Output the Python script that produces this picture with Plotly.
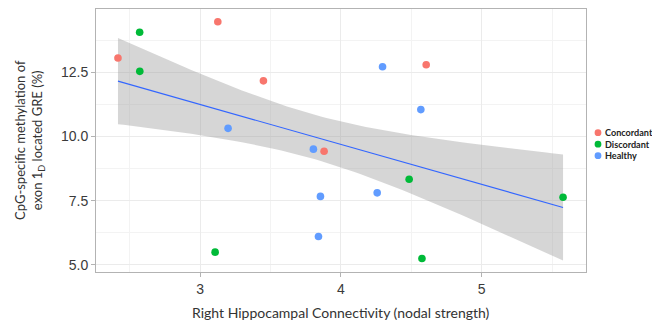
import numpy as np
import plotly.graph_objects as go

# Nodal strength (x) and exon 1D GRE methylation (y) per group
groups = ["Concordant", "Discordant", "Healthy"]
colors = ["#F8766D", "#00BA38", "#619CFF"]

concordant_x = [2.417, 3.126, 3.450, 3.881, 4.606]
concordant_y = [13.06, 14.47, 12.17, 9.43, 12.80]
discordant_x = [2.571, 2.572, 3.107, 4.485, 4.576, 5.578]
discordant_y = [14.06, 12.54, 5.50, 8.34, 5.25, 7.64]
healthy_x = [3.199, 3.805, 3.855, 3.841, 4.296, 4.568, 4.258]
healthy_y = [10.32, 9.51, 7.67, 6.11, 12.72, 11.05, 7.81]

x_ticks = [3, 4, 5]
y_ticks = [5.0, 7.5, 10.0, 12.5]

xs = [concordant_x, discordant_x, healthy_x]
ys = [concordant_y, discordant_y, healthy_y]

# Linear fit with an 80% confidence band over all subjects
x_all = np.concatenate([np.array(v) for v in xs])
y_all = np.concatenate([np.array(v) for v in ys])
n = len(x_all)
slope, intercept = np.polyfit(x_all, y_all, 1)
grid = np.linspace(x_all.min(), x_all.max(), 80)
fit = intercept + slope * grid
resid = y_all - (intercept + slope * x_all)
s = np.sqrt(np.sum(resid ** 2) / (n - 2))
x_mean = x_all.mean()
sxx = np.sum((x_all - x_mean) ** 2)
t_crit = 1.3368  # t(0.90, df = 16)
se = s * np.sqrt(1.0 / n + (grid - x_mean) ** 2 / sxx)
upper = fit + t_crit * se
lower = fit - t_crit * se

fig = go.Figure()
fig.add_trace(go.Scatter(
    x=np.concatenate([grid, grid[::-1]]),
    y=np.concatenate([upper, lower[::-1]]),
    fill="toself", fillcolor="rgba(153,153,153,0.4)",
    line=dict(width=0), mode="lines", hoverinfo="skip", showlegend=False,
))
fig.add_trace(go.Scatter(
    x=grid, y=fit, mode="lines",
    line=dict(color="#3366FF", width=1.1), showlegend=False,
))
for name, col, gx, gy in zip(groups, colors, xs, ys):
    fig.add_trace(go.Scatter(
        x=gx, y=gy, mode="markers", name=name,
        marker=dict(color=col, size=7.6, line=dict(width=0)),
        showlegend=False,
    ))

# Plot area geometry (pixels) used for the hand-placed legend and titles
W, H = 652, 321
ml, mr, mt, mb = 96, 66, 9, 49
pw, ph = W - ml - mr, H - mt - mb

shapes = []
annotations = []
for i, (name, col) in enumerate(zip(groups, colors)):
    py = 132.7 + i * 11.5
    yp = (H - mb - py) / ph
    shapes.append(dict(
        type="circle", xref="paper", yref="paper",
        xsizemode="pixel", ysizemode="pixel",
        xanchor=(598 - ml) / pw, yanchor=yp,
        x0=-3.4, x1=3.4, y0=-3.4, y1=3.4,
        fillcolor=col, line=dict(width=0),
    ))
    annotations.append(dict(
        text="<b>" + name + "</b>", xref="paper", yref="paper",
        x=(602.5 - ml) / pw, y=yp, xanchor="left", yanchor="middle",
        showarrow=False, font=dict(family="Lato", size=9.1, color="#222222"),
    ))

annotations.append(dict(
    text="Right Hippocampal Connectivity (nodal strength)",
    xref="paper", yref="paper", x=0.5, y=0, yanchor="middle", yshift=-40,
    showarrow=False, font=dict(family="Lato", size=14, color="#333333"),
))
annotations.append(dict(
    text="CpG-specific methylation of<br>exon 1<sub>D</sub> located GRE (%)",
    xref="paper", yref="paper", x=0, y=0.5, xanchor="center", yanchor="middle",
    xshift=-(ml - 29.5), textangle=-90,
    showarrow=False, font=dict(family="Lato", size=13, color="#333333"),
))

axis_common = dict(
    showline=True, mirror=True, linecolor="#b3b3b3", linewidth=1,
    ticks="outside", ticklen=4, tickcolor="#b3b3b3",
    showgrid=True, gridcolor="#ebebeb", gridwidth=1,
    zeroline=False,
    tickfont=dict(family="Liberation Sans", size=14, color="#3a3a3a"),
)

fig.update_layout(
    width=W, height=H,
    margin=dict(l=ml, r=mr, t=mt, b=mb),
    paper_bgcolor="white", plot_bgcolor="white",
    showlegend=False,
    shapes=shapes, annotations=annotations,
    xaxis=dict(range=[2.261, 5.741], tickvals=x_ticks,
               minor=dict(dtick=0.5, tick0=2.5, showgrid=True, gridcolor="#f3f3f3"),
               **axis_common),
    yaxis=dict(range=[4.727, 14.968], tickvals=y_ticks, tickformat=".1f",
               minor=dict(dtick=1.25, tick0=5, showgrid=True, gridcolor="#f3f3f3"),
               **axis_common),
)

fig.write_html("out.html")
